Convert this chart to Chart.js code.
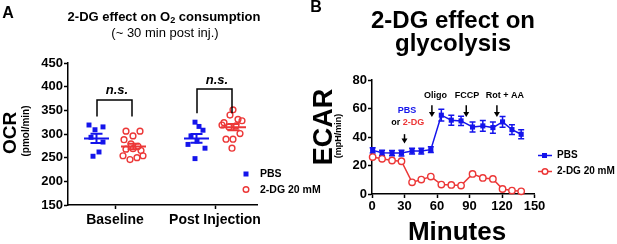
<!DOCTYPE html>
<html lang="en">
<head>
<meta charset="UTF-8">
<title>2-DG effect on OCR and ECAR</title>
<script src="https://cdn.jsdelivr.net/npm/chart.js"></script>
<style>
  body { margin: 0; background: #fff; font-family: 'Liberation Sans', Arial, sans-serif; }
  #wrap { position: relative; width: 617px; height: 244px; overflow: hidden; }
  canvas { position: absolute; top: 0; }
  .t { position: absolute; color: #000; font-weight: bold; white-space: nowrap; line-height: 1; transform: translate(-50%, -50%); }
  .rot { transform: translate(-50%, -50%) rotate(-90deg); }
  sub { font-size: 0.7em; vertical-align: -0.25em; line-height: 0; }
</style>
</head>
<body>
<div id="wrap">
  <canvas id="ocrChart" width="330" height="244" style="left:0"></canvas>
  <canvas id="ecarChart" width="307" height="244" style="left:310px"></canvas>

  <div class="t" style="left:8px;top:12.5px;font-size:16px">A</div>
  <div class="t" style="left:164px;top:15.5px;font-size:13px">2-DG effect on O<sub>2</sub> consumption</div>
  <div class="t" style="left:165px;top:31.5px;font-size:13px;font-weight:normal">(~ 30 min post inj.)</div>
  <div class="t rot" style="left:9px;top:133px;font-size:19px">OCR</div>
  <div class="t rot" style="left:26px;top:131px;font-size:10px">(pmol/min)</div>

  <div class="t" style="left:316px;top:7px;font-size:16px">B</div>
  <div class="t" style="left:453px;top:20px;font-size:24px">2-DG effect on</div>
  <div class="t" style="left:453px;top:42.5px;font-size:24px">glycolysis</div>
  <div class="t rot" style="left:322.5px;top:126.5px;font-size:27px">ECAR</div>
  <div class="t rot" style="left:337.5px;top:135.5px;font-size:9px">(mpH/min)</div>
  <div class="t" style="left:457px;top:231px;font-size:26px">Minutes</div>
</div>

<script>
  const BLUE = 'rgb(20,20,235)';
  const RED = 'rgb(236,55,55)';
  const FONT = "'Liberation Sans', Arial, sans-serif";

  // ---- Panel A: OCR scatter ----
  const groups = ['Baseline', 'Post Injection'];
  const pbsBaseline = [319, 315, 309, 293, 283, 262, 253];
  const pbsBaselineX = [-0.26, -0.12, -0.20, -0.24, -0.12, -0.16, -0.22];
  const dgBaseline = [306, 306, 296, 288, 279, 274, 268, 269, 265, 254, 246, 250, 254];
  const dgBaselineX = [0.11, 0.25, 0.18, 0.09, 0.16, 0.23, 0.11, 0.18, 0.26, 0.08, 0.15, 0.22, 0.28];
  const pbsPost = [325, 316, 308, 296, 285, 278, 270, 248];
  const pbsPostX = [-0.20, -0.16, -0.12, -0.24, -0.18, -0.27, -0.10, -0.20];
  const dgPost = [351, 340, 324, 331, 328, 317, 315, 319, 301, 289, 289, 270];
  const dgPostX = [0.18, 0.15, 0.09, 0.23, 0.27, 0.21, 0.14, 0.07, 0.25, 0.11, 0.18, 0.17];
  const nsBracketTop = [372, 395];
  const nsBracketLeg = [337, 344];
  const nsLabelY = [385, 406];

  // ---- Panel B: ECAR time course ----
  const minutes = [0.6, 9.3, 18.5, 27.2, 37, 45.5, 54.3, 64, 73.2, 82.2, 92.8, 102.3, 111.6, 120.5, 129.2, 137.7];
  const pbsEcar = [30.6, 28.9, 28.7, 28.7, 30.1, 30.1, 31.1, 55.3, 51.8, 51.3, 47, 47.8, 46.6, 50.6, 45.2, 41.9];
  const pbsEcarSem = [1.8, 1.8, 1.8, 2, 2, 2, 2, 4.1, 3.5, 3.2, 3.5, 3.8, 3.9, 3.8, 3.4, 3.2];
  const dgEcar = [25.9, 24.7, 23.5, 23, 8.2, 10.1, 12.2, 6.6, 6.4, 5.9, 14.1, 11.3, 10.6, 3.5, 2.4, 1.9];
  const dgEcarSem = [0.8, 0.8, 0.8, 0.8, 0.8, 0.8, 0.8, 0.8, 0.8, 0.8, 0.8, 0.8, 0.8, 0.8, 0.8, 0.8];
  const injLabels = ['Oligo', 'FCCP', 'Rot + AA'];
  const injLabelX = [58.5, 87.6, 122.7];
  const injArrowX = [55.3, 87, 115.3];

  function pts(vals, offs, g) {
    return vals.map((v, i) => ({ x: g + offs[i], y: v }));
  }

  function axisStyle() {
    return {
      grid: { drawOnChartArea: false, drawTicks: true, tickLength: 4, tickColor: '#000', tickWidth: 1.5 },
      border: { display: true, color: '#000', width: 1.5 }
    };
  }

  // mean + SEM lines and n.s. brackets
  const ocrExtras = {
    id: 'ocrExtras',
    afterDatasetsDraw(chart) {
      const { ctx, scales: { x, y } } = chart;
      ctx.save();
      chart.data.datasets.forEach(ds => {
        const v = ds.data.map(p => p.y);
        const n = v.length;
        const mean = v.reduce((a, b) => a + b, 0) / n;
        const sd = Math.sqrt(v.reduce((a, b) => a + (b - mean) ** 2, 0) / (n - 1));
        const sem = sd / Math.sqrt(n);
        const c = ds.center;
        ctx.strokeStyle = ds.borderColor;
        ctx.lineWidth = 2;
        ctx.beginPath();
        ctx.moveTo(x.getPixelForValue(c - 0.125), y.getPixelForValue(mean));
        ctx.lineTo(x.getPixelForValue(c + 0.125), y.getPixelForValue(mean));
        ctx.moveTo(x.getPixelForValue(c), y.getPixelForValue(mean - sem));
        ctx.lineTo(x.getPixelForValue(c), y.getPixelForValue(mean + sem));
        [mean - sem, mean + sem].forEach(e => {
          ctx.moveTo(x.getPixelForValue(c - 0.06), y.getPixelForValue(e));
          ctx.lineTo(x.getPixelForValue(c + 0.06), y.getPixelForValue(e));
        });
        ctx.stroke();
      });
      // brackets
      ctx.strokeStyle = '#000';
      ctx.lineWidth = 1.5;
      ctx.fillStyle = '#000';
      ctx.font = 'italic bold 13px ' + FONT;
      ctx.textAlign = 'center';
      ctx.textBaseline = 'alphabetic';
      groups.forEach((g, i) => {
        const l = x.getPixelForValue(i + 1 - 0.18), r = x.getPixelForValue(i + 1 + 0.17);
        const top = y.getPixelForValue(nsBracketTop[i]), leg = y.getPixelForValue(nsBracketLeg[i]);
        ctx.beginPath();
        ctx.moveTo(l, leg); ctx.lineTo(l, top); ctx.lineTo(r, top); ctx.lineTo(r, leg);
        ctx.stroke();
        ctx.fillText('n.s.', x.getPixelForValue(i + 1.02), y.getPixelForValue(nsLabelY[i]));
      });
      // legend
      ctx.font = 'bold 10.5px ' + FONT;
      ctx.textAlign = 'left';
      ctx.textBaseline = 'middle';
      ctx.fillStyle = BLUE;
      ctx.fillRect(243.5, 171.5, 5, 5);
      ctx.strokeStyle = RED;
      ctx.lineWidth = 1.4;
      ctx.beginPath();
      ctx.arc(246, 189.5, 2.8, 0, Math.PI * 2);
      ctx.stroke();
      ctx.fillStyle = '#000';
      ctx.fillText('PBS', 260, 174.5);
      ctx.fillText('2-DG 20 mM', 260, 190);
      ctx.restore();
    }
  };

  const pbsStyle = { borderColor: BLUE, backgroundColor: BLUE, pointStyle: 'rect', pointRadius: 3.5, borderWidth: 0 };
  const dgStyle = { borderColor: RED, backgroundColor: 'rgba(255,255,255,0)', pointStyle: 'circle', pointRadius: 2.9, borderWidth: 1.4 };

  new Chart(document.getElementById('ocrChart'), {
    type: 'scatter',
    data: {
      datasets: [
        Object.assign({ label: 'PBS', data: pts(pbsBaseline, pbsBaselineX, 1), center: 1 - 0.185 }, pbsStyle),
        Object.assign({ label: '2-DG 20 mM', data: pts(dgBaseline, dgBaselineX, 1), center: 1 + 0.185 }, dgStyle),
        Object.assign({ label: 'PBS', data: pts(pbsPost, pbsPostX, 2), center: 2 - 0.185 }, pbsStyle),
        Object.assign({ label: '2-DG 20 mM', data: pts(dgPost, dgPostX, 2), center: 2 + 0.185 }, dgStyle)
      ]
    },
    options: {
      responsive: false,
      animation: false,
      layout: { padding: { left: 0, top: 63, right: 73, bottom: 9 } },
      plugins: { legend: { display: false }, tooltip: { enabled: false } },
      scales: {
        x: Object.assign({
          type: 'linear', min: 0.53, max: 2.42,
          afterBuildTicks: s => { s.ticks = groups.map((g, i) => ({ value: i + 1 })); },
          afterFit: s => { s.height = 30; },
          ticks: { callback: (v, i) => groups[i], color: '#000', font: { family: FONT, size: 14, weight: 'bold' }, padding: 3, maxRotation: 0, autoSkip: false }
        }, axisStyle()),
        y: Object.assign({
          min: 150, max: 450,
          afterFit: s => { s.width = 68; },
          ticks: { stepSize: 50, color: '#000', font: { family: FONT, size: 13, weight: 'bold' }, padding: 1 }
        }, axisStyle())
      }
    },
    plugins: [ocrExtras]
  });

  // error bars, injection arrows and legend for panel B
  const ecarExtras = {
    id: 'ecarExtras',
    beforeDatasetsDraw(chart) {
      const { ctx, scales: { x, y } } = chart;
      ctx.save();
      chart.data.datasets.forEach(ds => {
        ctx.strokeStyle = ds.borderColor;
        ctx.lineWidth = 1.5;
        ds.data.forEach((p, i) => {
          const px = x.getPixelForValue(p.x);
          const lo = y.getPixelForValue(p.y - ds.sem[i]), hi = y.getPixelForValue(p.y + ds.sem[i]);
          ctx.beginPath();
          ctx.moveTo(px, lo); ctx.lineTo(px, hi);
          ctx.moveTo(px - 3, lo); ctx.lineTo(px + 3, lo);
          ctx.moveTo(px - 3, hi); ctx.lineTo(px + 3, hi);
          ctx.stroke();
        });
      });
      ctx.restore();
    },
    afterDraw(chart) {
      const { ctx, scales: { x, y } } = chart;
      ctx.save();
      const arrow = (t, top, bottom) => {
        const px = x.getPixelForValue(t);
        const y0 = y.getPixelForValue(top), y1 = y.getPixelForValue(bottom);
        ctx.strokeStyle = '#000';
        ctx.fillStyle = '#000';
        ctx.lineWidth = 1.5;
        ctx.beginPath();
        ctx.moveTo(px, y0); ctx.lineTo(px, y1 - 4);
        ctx.stroke();
        ctx.beginPath();
        ctx.moveTo(px - 3, y1 - 5); ctx.lineTo(px + 3, y1 - 5); ctx.lineTo(px, y1);
        ctx.closePath();
        ctx.fill();
      };
      injArrowX.forEach(t => arrow(t, 62.2, 54));
      arrow(30, 42, 35.5);

      ctx.font = 'bold 9px ' + FONT;
      ctx.textAlign = 'center';
      ctx.textBaseline = 'middle';
      ctx.fillStyle = '#000';
      injLabels.forEach((l, i) => ctx.fillText(l, x.getPixelForValue(injLabelX[i]), y.getPixelForValue(69.1)));
      ctx.fillStyle = BLUE;
      ctx.fillText('PBS', x.getPixelForValue(32.3), y.getPixelForValue(58.4));
      const cx = x.getPixelForValue(33.1), cy = y.getPixelForValue(50.1);
      const w1 = ctx.measureText('or ').width, w2 = ctx.measureText('2-DG').width;
      ctx.textAlign = 'left';
      ctx.fillStyle = '#000';
      ctx.fillText('or ', cx - (w1 + w2) / 2, cy);
      ctx.fillStyle = RED;
      ctx.fillText('2-DG', cx - (w1 + w2) / 2 + w1, cy);

      // legend
      const items = [
        { label: 'PBS', color: BLUE, y: 155.5, rect: true },
        { label: '2-DG 20 mM', color: RED, y: 171.5, rect: false }
      ];
      ctx.font = 'bold 10px ' + FONT;
      items.forEach(it => {
        ctx.strokeStyle = it.color;
        ctx.lineWidth = 1.5;
        ctx.beginPath();
        ctx.moveTo(228, it.y); ctx.lineTo(242, it.y);
        ctx.stroke();
        if (it.rect) {
          ctx.fillStyle = it.color;
          ctx.fillRect(232, it.y - 2.5, 5, 5);
        } else {
          ctx.fillStyle = '#fff';
          ctx.beginPath();
          ctx.arc(235, it.y, 2.8, 0, Math.PI * 2);
          ctx.fill();
          ctx.stroke();
        }
        ctx.fillStyle = '#000';
        ctx.fillText(it.label, 247, it.y);
      });
      ctx.restore();
    }
  };

  new Chart(document.getElementById('ecarChart'), {
    type: 'line',
    data: {
      datasets: [
        {
          label: 'PBS', data: minutes.map((m, i) => ({ x: m, y: pbsEcar[i] })), sem: pbsEcarSem,
          borderColor: BLUE, backgroundColor: BLUE, borderWidth: 1.5, pointStyle: 'rect', pointRadius: 3.6,
          pointBorderWidth: 0, tension: 0, clip: false
        },
        {
          label: '2-DG 20 mM', data: minutes.map((m, i) => ({ x: m, y: dgEcar[i] })), sem: dgEcarSem,
          borderColor: RED, backgroundColor: '#fff', borderWidth: 1.5, pointStyle: 'circle', pointRadius: 3.2,
          pointBorderWidth: 1.4, tension: 0, clip: false
        }
      ]
    },
    options: {
      responsive: false,
      animation: false,
      layout: { padding: { left: 0, top: 80, right: 82.5, bottom: 30 } },
      plugins: { legend: { display: false }, tooltip: { enabled: false } },
      scales: {
        x: Object.assign({
          type: 'linear', min: 0, max: 150,
          afterFit: s => { s.height = 20; },
          ticks: { stepSize: 30, color: '#000', font: { family: FONT, size: 13, weight: 'bold' }, padding: 1, maxRotation: 0 }
        }, axisStyle()),
        y: Object.assign({
          min: 0, max: 80,
          afterFit: s => { s.width = 62; },
          ticks: { stepSize: 20, color: '#000', font: { family: FONT, size: 13, weight: 'bold' }, padding: 1 }
        }, axisStyle())
      }
    },
    plugins: [ecarExtras]
  });
</script>
</body>
</html>
